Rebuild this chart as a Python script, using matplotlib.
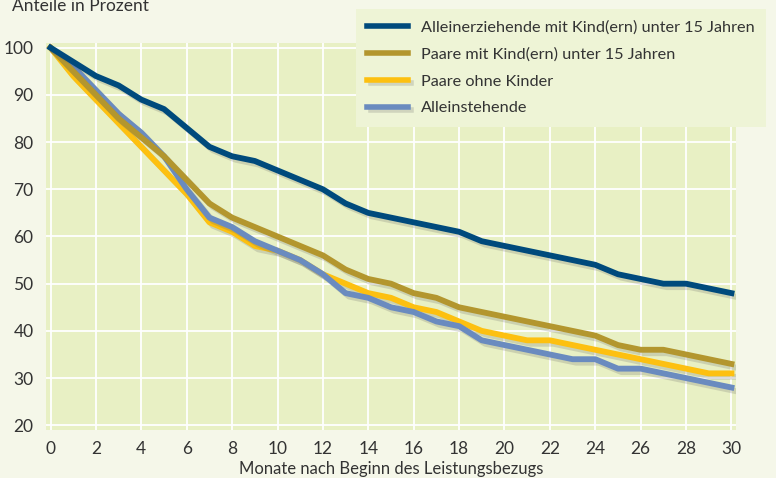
import matplotlib
matplotlib.use('Agg')
import matplotlib.pyplot as plt
import matplotlib.patheffects as pe
from matplotlib.lines import Line2D

plt.rcParams['font.family'] = ['Lato', 'DejaVu Sans']

monate = list(range(31))

alleinerziehende = [100, 97, 94, 92, 89, 87, 83, 79, 77, 76, 74, 72, 70, 67, 65, 64,
                    63, 62, 61, 59, 58, 57, 56, 55, 54, 52, 51, 50, 50, 49, 48]
paare_mit_kind = [100, 95, 90, 85, 81, 77, 72, 67, 64, 62, 60, 58, 56, 53, 51, 50,
                  48, 47, 45, 44, 43, 42, 41, 40, 39, 37, 36, 36, 35, 34, 33]
paare_ohne_kinder = [100, 94, 89, 84, 79, 74, 69, 63, 61, 58, 57, 55, 52, 50, 48, 47,
                     45, 44, 42, 40, 39, 38, 38, 37, 36, 35, 34, 33, 32, 31, 31]
alleinstehende = [100, 96, 91, 86, 82, 77, 70, 64, 62, 59, 57, 55, 52, 48, 47, 45,
                  44, 42, 41, 38, 37, 36, 35, 34, 34, 32, 32, 31, 30, 29, 28]

labels = ['Alleinerziehende mit Kind(ern) unter 15 Jahren',
          'Paare mit Kind(ern) unter 15 Jahren',
          'Paare ohne Kinder',
          'Alleinstehende']

c_dunkelblau = '#004a7c'
c_oliv = '#b3962e'
c_gelb = '#fdc010'
c_hellblau = '#6a8bbf'
text_col = '#333333'

fig = plt.figure(figsize=(7.76, 4.78), dpi=100, facecolor='#f5f7e9')
ax = fig.add_axes([46 / 776, 1 - 430 / 478, 690 / 776, 387 / 478])
ax.set_facecolor('#e8f0c4')

shadow = [pe.SimpleLineShadow(offset=(2.5, -2.5), shadow_color='#666666', alpha=0.22),
          pe.Normal()]

# drawing order: yellow at the bottom, dark blue on top
ax.plot(monate, paare_ohne_kinder, color=c_gelb, lw=4.2, path_effects=shadow, zorder=3)
ax.plot(monate, alleinstehende, color=c_hellblau, lw=4.2, path_effects=shadow, zorder=4)
ax.plot(monate, paare_mit_kind, color=c_oliv, lw=4.2, path_effects=shadow, zorder=5)
ax.plot(monate, alleinerziehende, color=c_dunkelblau, lw=4.2, path_effects=shadow, zorder=6)

ax.set_xlim(-0.2, 30.2)
ax.set_ylim(19, 101)
ax.set_xticks(range(0, 31, 2))
ax.set_yticks(range(20, 101, 10))
ax.grid(True, color='white', lw=1.3)
ax.set_axisbelow(True)
for s in ax.spines.values():
    s.set_visible(False)
ax.tick_params(length=0, labelsize=12.5, colors=text_col)
ax.tick_params(axis='y', pad=9)
ax.tick_params(axis='x', pad=8)

ax.set_xlabel('Monate nach Beginn des Leistungsbezugs', fontsize=12, color=text_col, labelpad=3)
fig.text(12 / 776, 1 - 11 / 478, 'Anteile in Prozent', fontsize=12.5, color=text_col, va='baseline')

# legend: the lower two entries have a shadow in the original
handles = [
    Line2D([], [], color=c_dunkelblau, lw=4),
    Line2D([], [], color=c_oliv, lw=4),
    Line2D([], [], color=c_gelb, lw=4, path_effects=shadow),
    Line2D([], [], color=c_hellblau, lw=4, path_effects=shadow),
]
leg = fig.legend(handles, labels, loc='upper left', bbox_to_anchor=(356 / 776, 1 - 9 / 478),
                 borderaxespad=0, frameon=True, fancybox=False, facecolor='#eef4d6',
                 edgecolor='none', framealpha=1, fontsize=11.7, handlelength=2.5,
                 handletextpad=0.8, labelspacing=0.77, borderpad=0.7, labelcolor=text_col)
leg.set_zorder(10)

fig.savefig('out.png', dpi=100, facecolor=fig.get_facecolor())
